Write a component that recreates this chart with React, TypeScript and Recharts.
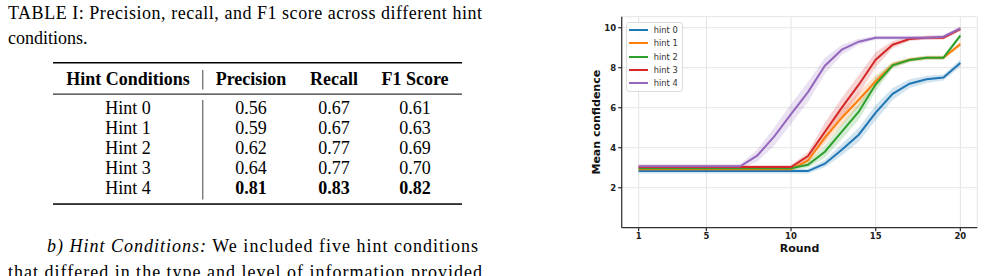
import React from 'react';
import {
  ComposedChart,
  Line,
  Area,
  XAxis,
  YAxis,
  CartesianGrid,
  Legend,
} from 'recharts';

// ---- chart data ----
const rounds = [1, 2, 3, 4, 5, 6, 7, 8, 9, 10, 11, 12, 13, 14, 15, 16, 17, 18, 19, 20];
const hintNames = ['hint 0', 'hint 1', 'hint 2', 'hint 3', 'hint 4'];
const hintColors = ['#1f77b4', '#ff7f0e', '#2ca02c', '#d62728', '#9467bd'];

const hint0 = [2.83, 2.83, 2.83, 2.83, 2.83, 2.83, 2.83, 2.83, 2.83, 2.83, 2.83, 3.2, 3.9, 4.65, 5.75, 6.69, 7.2, 7.42, 7.51, 8.23];
const hint1 = [2.92, 2.92, 2.92, 2.92, 2.92, 2.92, 2.92, 2.92, 2.92, 2.92, 3.36, 4.5, 5.5, 6.4, 7.32, 8.14, 8.4, 8.5, 8.5, 9.18];
const hint2 = [2.97, 2.97, 2.97, 2.97, 2.97, 2.97, 2.97, 2.97, 2.97, 2.97, 3.15, 3.8, 4.8, 5.8, 7.17, 8.12, 8.38, 8.5, 8.5, 9.6];
const hint3 = [3.03, 3.03, 3.03, 3.03, 3.03, 3.03, 3.03, 3.03, 3.03, 3.03, 3.58, 4.8, 6.0, 7.15, 8.4, 9.15, 9.43, 9.5, 9.5, 9.93];
const hint4 = [3.07, 3.07, 3.07, 3.07, 3.07, 3.07, 3.07, 3.6, 4.55, 5.68, 6.78, 8.1, 8.9, 9.3, 9.5, 9.5, 9.5, 9.5, 9.55, 9.97];

// half-width of the shaded band around each mean
const ci0 = [0.12, 0.12, 0.12, 0.12, 0.12, 0.12, 0.12, 0.12, 0.12, 0.12, 0.12, 0.18, 0.28, 0.35, 0.38, 0.3, 0.22, 0.18, 0.15, 0.18];
const ci1 = [0.1, 0.1, 0.1, 0.1, 0.1, 0.1, 0.1, 0.1, 0.1, 0.1, 0.18, 0.32, 0.38, 0.38, 0.3, 0.15, 0.1, 0.1, 0.1, 0.12];
const ci2 = [0.1, 0.1, 0.1, 0.1, 0.1, 0.1, 0.1, 0.1, 0.1, 0.1, 0.15, 0.3, 0.38, 0.4, 0.35, 0.15, 0.1, 0.1, 0.1, 0.12];
const ci3 = [0.1, 0.1, 0.1, 0.1, 0.1, 0.1, 0.1, 0.1, 0.1, 0.1, 0.2, 0.45, 0.5, 0.48, 0.38, 0.18, 0.1, 0.1, 0.1, 0.1];
const ci4 = [0.12, 0.12, 0.12, 0.12, 0.12, 0.12, 0.12, 0.3, 0.45, 0.5, 0.5, 0.4, 0.25, 0.15, 0.1, 0.1, 0.1, 0.1, 0.1, 0.1];

const xTicks = [1, 5, 10, 15, 20];
const yTicks = [2, 4, 6, 8, 10];

// ---- table data ----
const tableHeaders = ['Hint Conditions', 'Precision', 'Recall', 'F1 Score'];
const conditions = ['Hint 0', 'Hint 1', 'Hint 2', 'Hint 3', 'Hint 4'];
const precision = ['0.56', '0.59', '0.62', '0.64', '0.81'];
const recall = ['0.67', '0.67', '0.77', '0.77', '0.83'];
const f1 = ['0.61', '0.63', '0.69', '0.70', '0.82'];

const means = [hint0, hint1, hint2, hint3, hint4];
const cis = [ci0, ci1, ci2, ci3, ci4];

const chartData = rounds.map((r, i) => {
  const row: Record<string, number | number[]> = { round: r };
  means.forEach((m, k) => {
    row[`m${k}`] = m[i];
    row[`b${k}`] = [m[i] - cis[k][i], m[i] + cis[k][i]];
  });
  return row;
});

const serif = '"Liberation Serif", "Times New Roman", serif';
const sans = '"DejaVu Sans", sans-serif';

const LegendBox = (props: any) => {
  const items = (props.payload || []).filter((p: any) => p.type !== 'none');
  return (
    <div
      style={{
        background: 'rgba(255,255,255,0.85)',
        border: '1px solid #dcdcdc',
        borderRadius: 3,
        padding: '1px 4px 1px 2px',
        fontFamily: sans,
        fontSize: 8.3,
        color: '#333',
      }}
    >
      {items.map((p: any) => (
        <div key={p.value} style={{ display: 'flex', alignItems: 'center', height: 13.2 }}>
          <span style={{ width: 19, height: 2, background: p.color, marginRight: 6 }} />
          <span>{p.value}</span>
        </div>
      ))}
    </div>
  );
};

const colX = [128, 251, 334, 415];
const rowY = [114, 134, 154, 174, 194];

const PaperText = () => (
  <svg width={580} height={276} style={{ position: 'absolute', left: 0, top: 0 }}>
    <g fontFamily={serif} fontSize={18} fill="#000">
      <text x={8} y={19} textLength={474} lengthAdjust="spacing">
        TABLE I: Precision, recall, and F1 score across different hint
      </text>
      <text x={8} y={44}>conditions.</text>

      <rect x={53} y={62} width={409} height={1.5} fill="#000" />
      <rect x={53} y={93.6} width={409} height={1} fill="#000" />
      <rect x={53} y={203.3} width={409} height={1.5} fill="#000" />
      <rect x={202.3} y={70} width={1} height={19.5} fill="#444" />
      <rect x={202.3} y={100} width={1} height={99.5} fill="#444" />

      {tableHeaders.map((h, i) => (
        <text key={h} x={colX[i]} y={85} textAnchor="middle" fontWeight="bold">
          {h}
        </text>
      ))}
      {conditions.map((c, i) => {
        const bold = i === conditions.length - 1 ? 'bold' : 'normal';
        return (
          <g key={c}>
            <text x={colX[0]} y={rowY[i]} textAnchor="middle">{c}</text>
            <text x={colX[1]} y={rowY[i]} textAnchor="middle" fontWeight={bold}>{precision[i]}</text>
            <text x={colX[2]} y={rowY[i]} textAnchor="middle" fontWeight={bold}>{recall[i]}</text>
            <text x={colX[3]} y={rowY[i]} textAnchor="middle" fontWeight={bold}>{f1[i]}</text>
          </g>
        );
      })}

      <text x={47} y={252} textLength={431} lengthAdjust="spacing">
        <tspan fontStyle="italic">b) Hint Conditions:</tspan> We included five hint conditions
      </text>
      <text x={8} y={278} textLength={474} lengthAdjust="spacing">
        that differed in the type and level of information provided
      </text>
    </g>
  </svg>
);

const App = () => {
  const tickStyle = { fontFamily: sans, fontWeight: 'bold', fontSize: 8.5, fill: '#222' };
  return (
    <div
      style={{
        position: 'absolute',
        left: 0,
        top: 0,
        width: 984,
        height: 276,
        overflow: 'hidden',
        background: '#fff',
      }}
    >
      <PaperText />
      <div style={{ position: 'absolute', left: 580, top: 0 }}>
        <ComposedChart
          width={404}
          height={276}
          data={chartData}
          margin={{ top: 16.7, right: 6.7, left: 0, bottom: 18.3 }}
        >
          <CartesianGrid stroke="#e4e4e4" strokeWidth={1} />
          <XAxis
            dataKey="round"
            type="number"
            domain={[0, 21]}
            ticks={xTicks}
            height={30}
            tick={tickStyle}
            tickSize={3.5}
            tickMargin={2}
            stroke="#333"
            strokeWidth={1.25}
            label={{
              value: 'Round',
              position: 'insideBottom',
              offset: 5.5,
              style: { fontFamily: sans, fontWeight: 'bold', fontSize: 11, fill: '#111' },
            }}
          />
          <YAxis
            type="number"
            domain={[0, 10.55]}
            ticks={yTicks}
            width={41.7}
            tick={tickStyle}
            tickSize={3.5}
            tickMargin={2}
            stroke="#333"
            strokeWidth={1.25}
            label={{
              value: 'Mean confidence',
              angle: -90,
              position: 'insideLeft',
              offset: 16,
              style: { fontFamily: sans, fontWeight: 'bold', fontSize: 11, fill: '#111', textAnchor: 'middle' },
            }}
          />
          {means.map((_, k) => (
            <Area
              key={`b${k}`}
              dataKey={`b${k}`}
              type="linear"
              stroke="none"
              fill={hintColors[k]}
              fillOpacity={0.2}
              legendType="none"
              isAnimationActive={false}
            />
          ))}
          {means.map((_, k) => (
            <Line
              key={`m${k}`}
              dataKey={`m${k}`}
              name={hintNames[k]}
              type="linear"
              stroke={hintColors[k]}
              strokeWidth={2}
              dot={false}
              isAnimationActive={false}
            />
          ))}
          <Legend
            layout="vertical"
            align="center"
            verticalAlign="middle"
            content={LegendBox}
            wrapperStyle={{ left: 45.7, top: 21.7, width: 'auto', height: 'auto' }}
          />
        </ComposedChart>
      </div>
    </div>
  );
};

export default App;
